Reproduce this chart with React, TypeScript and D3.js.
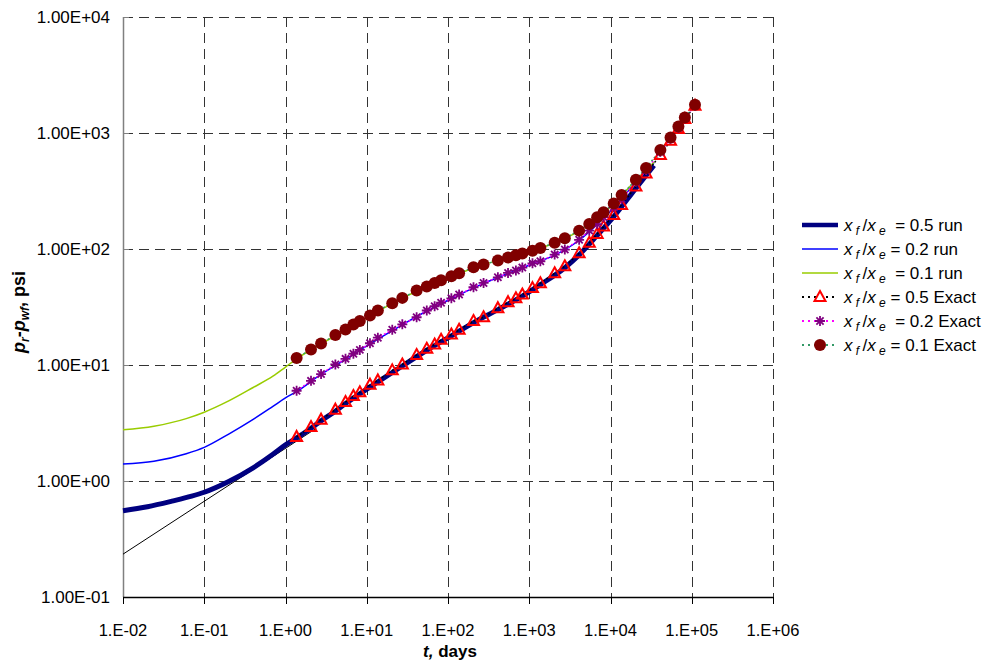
import React from "react";
import * as d3 from "d3";

// times (days) of the analytical points, shared by the three "Exact" series
const T_EXACT = [
  1.37, 2.06, 2.74, 4.11, 5.48, 6.85, 8.22, 10.96, 13.7, 20.6, 27.4, 41.1, 54.8,
  68.5, 82.2, 110, 137, 206, 274, 411, 548, 685, 822, 1096, 1370, 2055, 2740,
  4110, 5480, 6850, 8220, 10960, 13700, 20550, 27400, 41100, 54800, 68500,
  82200, 109600,
];
const P_EXACT_05 = [
  2.4, 2.92, 3.38, 4.12, 4.8, 5.4, 5.81, 6.77, 7.36, 8.99, 10.1, 12.2, 13.8,
  15.0, 16.5, 18.3, 20.1, 23.9, 25.8, 30.9, 34.8, 37.6, 40.5, 46.0, 50.7, 61.8,
  71.0, 91.8, 113, 135, 156, 196, 240, 345, 448, 646, 857, 1081, 1318, 1714,
];
const P_EXACT_02 = [
  6.0, 7.3, 8.35, 10.1, 11.3, 12.5, 13.5, 15.4, 17.2, 20.1, 22.4, 25.8, 29.5,
  32.1, 34.4, 37.6, 40.5, 46.8, 51.0, 57.0, 62.2, 65.2, 69.2, 75.2, 78.4, 89.5,
  98.9, 120, 144, 164, 188, 229, 270, 380, 480, 690, 890, 1110, 1340, 1730,
];
const P_EXACT_01 = [
  11.5, 13.6, 15.3, 18.1, 20.2, 22.3, 23.9, 26.7, 29.5, 34.1, 37.9, 43.8, 47.5,
  51.0, 53.8, 58.2, 61.8, 69.6, 73.4, 79.5, 84.4, 88.3, 91.5, 96.8, 102, 113,
  124, 144, 164, 188, 207, 247, 292, 396, 499, 713, 915, 1137, 1360, 1750,
];

// simulator runs
const T_RUN_05 = [
  0.01, 0.02, 0.04, 0.07, 0.1, 0.2, 0.4, 0.7, 1.0, 1.37, 2.06, 2.74, 4.11,
  5.48, 8.22, 13.7, 27.4, 54.8, 110, 206, 411, 822, 1370, 2740, 4110, 6850,
  10960, 20550, 34250,
];
const P_RUN_05 = [
  0.555, 0.6, 0.67, 0.74, 0.8, 0.99, 1.3, 1.7, 2.05, 2.35, 2.85, 3.3, 4.0,
  4.65, 5.65, 7.15, 9.8, 13.4, 17.8, 23.2, 30.0, 39.3, 49.3, 69.0, 89.0, 131,
  190, 335, 525,
];
const T_RUN = [
  0.01, 0.024, 0.06, 0.1, 0.2, 0.4, 0.7, 1.0, 1.37, 2.74, 5.48, 10.96, 27.4,
  54.8, 110, 274, 548, 1096, 2055, 4110, 6850, 10960, 20550, 34250,
];
const P_RUN_02 = [
  1.4, 1.48, 1.72, 1.95, 2.54, 3.4, 4.4, 5.2, 5.9, 8.3, 11.2, 15.2, 22.2,
  29.2, 37.3, 50.5, 61.5, 74.5, 88.5, 119, 163, 226, 378, 550,
];
const P_RUN_01 = [
  2.77, 2.97, 3.45, 3.92, 4.9, 6.4, 8.0, 9.6, 11.3, 15.2, 20.0, 26.5, 37.7,
  47.3, 58.0, 73.2, 84.2, 96.5, 112.5, 143, 187, 245, 393, 560,
];

// early-time half-slope reference line
const T_LINEAR = [0.01, 2.4];
const P_LINEAR = [0.234, 2.85];

const X_TICKS = [1e-2, 1e-1, 1e0, 1e1, 1e2, 1e3, 1e4, 1e5, 1e6];
const X_TICK_LABELS = ["1.E-02", "1.E-01", "1.E+00", "1.E+01", "1.E+02", "1.E+03", "1.E+04", "1.E+05", "1.E+06"];
const Y_TICKS = [1e-1, 1e0, 1e1, 1e2, 1e3, 1e4];
const Y_TICK_LABELS = ["1.00E-01", "1.00E+00", "1.00E+01", "1.00E+02", "1.00E+03", "1.00E+04"];

const FONT = "'Liberation Sans', Arial, sans-serif";

const App = () => {
  const x = d3.scaleLog().domain([1e-2, 1e6]).range([123, 773]);
  const y = d3.scaleLog().domain([1e-1, 1e4]).range([597, 17]);

  const zip = (ts: number[], ps: number[]) => ts.map((t, i) => [t, ps[i]] as [number, number]);
  const smooth = d3
    .line<[number, number]>()
    .x((d) => x(d[0]))
    .y((d) => y(d[1]))
    .curve(d3.curveMonotoneX);
  const straight = d3
    .line<[number, number]>()
    .x((d) => x(d[0]))
    .y((d) => y(d[1]));
  const px = (v: number) => Math.round(v) + 0.5;

  const tri = "M0,-6L5.5,4L-5.5,4Z";
  const star = "M-5,0H5M0,-5V5M-3.6,-3.6L3.6,3.6M-3.6,3.6L3.6,-3.6";

  const legend = [
    { v: "0.5", kind: "run", gap: "  ", color: "#000080", width: 4.5, dash: "", marker: "" },
    { v: "0.2", kind: "run", gap: " ", color: "#0000FF", width: 1.5, dash: "", marker: "" },
    { v: "0.1", kind: "run", gap: "  ", color: "#99CC00", width: 1.5, dash: "", marker: "" },
    { v: "0.5", kind: "Exact", gap: " ", color: "#000000", width: 2, dash: "2,4", marker: "tri" },
    { v: "0.2", kind: "Exact", gap: "  ", color: "#FF00FF", width: 2, dash: "2,4", marker: "star" },
    { v: "0.1", kind: "Exact", gap: " ", color: "#339966", width: 2, dash: "2,4", marker: "dot" },
  ];

  const exact05 = zip(T_EXACT, P_EXACT_05);
  const exact02 = zip(T_EXACT, P_EXACT_02);
  const exact01 = zip(T_EXACT, P_EXACT_01);

  return (
    <svg
      width={990}
      height={662}
      style={{ position: "absolute", left: 0, top: 0, background: "#fff" }}
      fontFamily={FONT}
    >
      {/* grid */}
      {X_TICKS.slice(1).map((t) => (
        <line key={"gx" + t} x1={px(x(t))} x2={px(x(t))} y1={17} y2={597} stroke="#333" strokeDasharray="10,6" />
      ))}
      {Y_TICKS.slice(1).map((p) => (
        <line key={"gy" + p} x1={123} x2={773} y1={px(y(p))} y2={px(y(p))} stroke="#333" strokeDasharray="10,6" />
      ))}

      {/* axes */}
      <line x1={123.5} x2={123.5} y1={17} y2={597} stroke="#808080" strokeWidth={1.5} />
      {Y_TICKS.map((p) => (
        <line key={"ty" + p} x1={123} x2={129} y1={px(y(p))} y2={px(y(p))} stroke="#808080" />
      ))}
      <line x1={123} x2={773} y1={597.5} y2={597.5} stroke="#000" strokeWidth={1.5} />
      {X_TICKS.map((t) => (
        <line key={"tx" + t} x1={px(x(t))} x2={px(x(t))} y1={597} y2={604} stroke="#000" />
      ))}
      {Y_TICKS.map((p, i) => (
        <text key={"ly" + p} x={110} y={y(p) + 6} fontSize={17} textAnchor="end">
          {Y_TICK_LABELS[i]}
        </text>
      ))}
      {X_TICKS.map((t, i) => (
        <text key={"lx" + t} x={x(t)} y={636} fontSize={16.5} textAnchor="middle">
          {X_TICK_LABELS[i]}
        </text>
      ))}
      <text x={450} y={657} fontSize={17} fontWeight="bold" textAnchor="middle" xmlSpace="preserve">
        <tspan fontStyle="italic">t,</tspan> days
      </text>
      <text
        transform="translate(25,312) rotate(-90)"
        fontSize={18}
        fontWeight="bold"
        textAnchor="middle"
        xmlSpace="preserve"
      >
        <tspan fontStyle="italic">p</tspan>
        <tspan fontStyle="italic" fontSize={12} dy={4}>r</tspan>
        <tspan dy={-4}>-</tspan>
        <tspan fontStyle="italic">p</tspan>
        <tspan fontStyle="italic" fontSize={12} dy={4}>wf</tspan>
        <tspan dy={-4}>, psi</tspan>
      </text>

      {/* reference line */}
      <path d={straight(zip(T_LINEAR, P_LINEAR)) || ""} fill="none" stroke="#000" strokeWidth={1} />

      {/* runs */}
      <path d={smooth(zip(T_RUN_05, P_RUN_05)) || ""} fill="none" stroke="#000080" strokeWidth={5} strokeLinejoin="round" />
      <path d={smooth(zip(T_RUN, P_RUN_02)) || ""} fill="none" stroke="#0000FF" strokeWidth={1.5} />
      <path d={smooth(zip(T_RUN, P_RUN_01)) || ""} fill="none" stroke="#99CC00" strokeWidth={1.5} />

      {/* exact solutions */}
      <path d={straight(exact05) || ""} fill="none" stroke="#000" strokeWidth={1.5} strokeDasharray="2,2" />
      <path d={straight(exact02) || ""} fill="none" stroke="#FF00FF" strokeWidth={1.5} strokeDasharray="2,2" />
      <path d={straight(exact01) || ""} fill="none" stroke="#339966" strokeWidth={1.5} strokeDasharray="2,2" />
      {exact05.map((d, i) => (
        <path key={"m5" + i} d={tri} transform={`translate(${x(d[0])},${y(d[1])})`} fill="none" stroke="#FF0000" strokeWidth={2} />
      ))}
      {exact02.map((d, i) => (
        <path key={"m2" + i} d={star} transform={`translate(${x(d[0])},${y(d[1])})`} fill="none" stroke="#800080" strokeWidth={1.8} />
      ))}
      {exact01.map((d, i) => (
        <circle key={"m1" + i} cx={x(d[0])} cy={y(d[1])} r={6} fill="#800000" />
      ))}

      {/* legend */}
      {legend.map((l, i) => {
        const ry = 225 + i * 24;
        return (
          <g key={"lg" + i}>
            <line x1={802} x2={838} y1={ry} y2={ry} stroke={l.color} strokeWidth={l.width} strokeDasharray={l.dash} />
            {l.marker === "tri" && <path d={tri} transform={`translate(820,${ry})`} fill="#fff" stroke="#FF0000" strokeWidth={2} />}
            {l.marker === "star" && <path d={star} transform={`translate(820,${ry})`} fill="none" stroke="#800080" strokeWidth={1.8} />}
            {l.marker === "dot" && <circle cx={820} cy={ry} r={6} fill="#800000" />}
            <text x={844} y={ry + 6} fontSize={17} xmlSpace="preserve">
              <tspan fontStyle="italic">x</tspan>
              <tspan fontStyle="italic" fontSize={12} dy={4}> f </tspan>
              <tspan dy={-4}>/</tspan>
              <tspan fontStyle="italic">x</tspan>
              <tspan fontStyle="italic" fontSize={12} dy={4}> e</tspan>
              <tspan dy={-4}>{l.gap + "= " + l.v + " " + l.kind}</tspan>
            </text>
          </g>
        );
      })}
    </svg>
  );
};

export default App;
